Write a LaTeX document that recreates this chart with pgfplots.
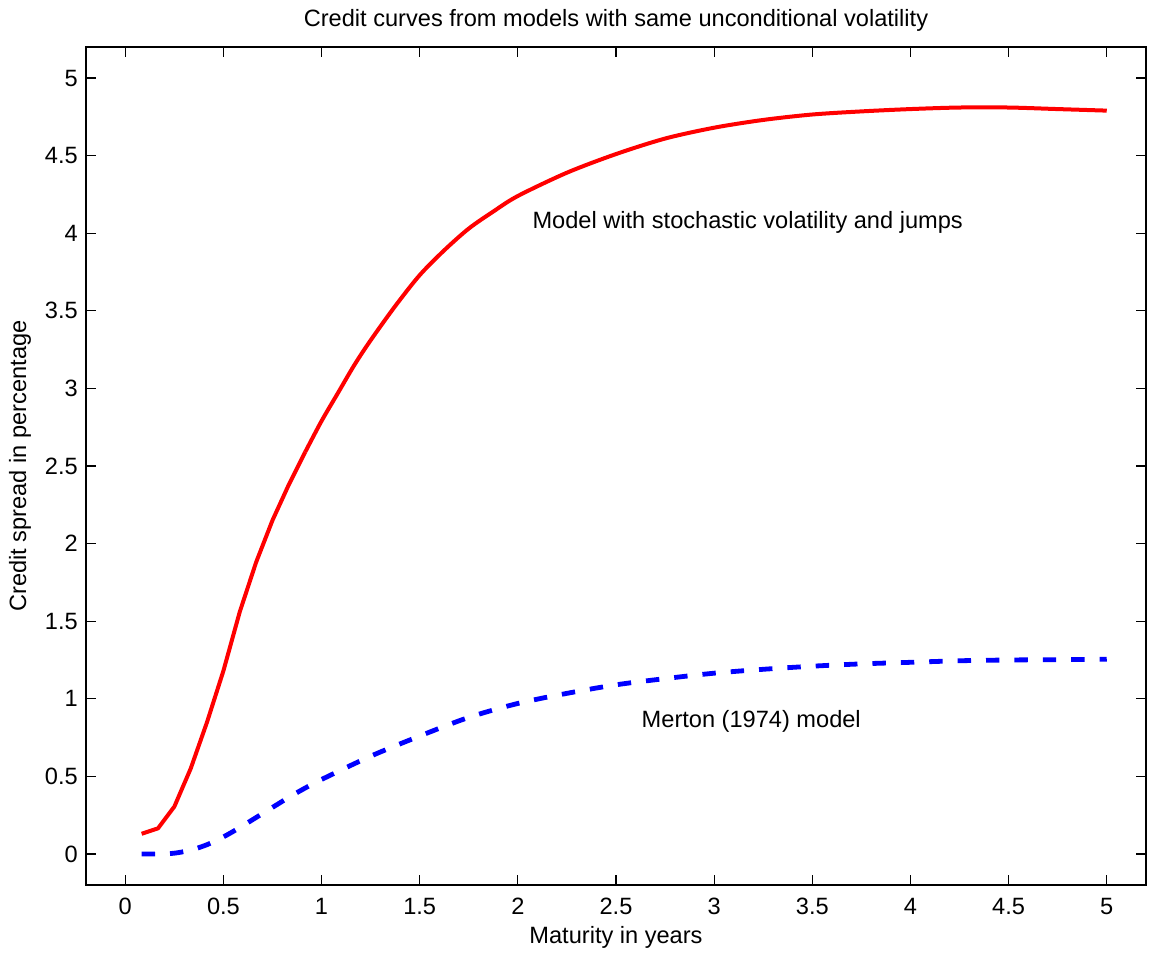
\documentclass[border=0pt]{standalone}
\usepackage{fontspec}
\setmainfont{Liberation Sans}
\usepackage{pgfplots}
\pgfplotsset{compat=1.18}
\begin{document}
\fontsize{11.8}{14}\selectfont
\begin{tikzpicture}
\begin{axis}[
  scale only axis,
  width=530pt, height=419pt,
  xmin=-0.2, xmax=5.2, ymin=-0.2, ymax=5.2,
  xtick={0,0.5,...,5}, ytick={0,0.5,...,5},
  xticklabels={0,0.5,1,1.5,2,2.5,3,3.5,4,4.5,5},
  yticklabels={0,0.5,1,1.5,2,2.5,3,3.5,4,4.5,5},
  tick align=inside, xtick pos=both, ytick pos=both,
  major tick length=5pt,
  tick style={black, line width=0.6pt},
  axis line style={black, line width=0.75pt},
  /pgf/number format/assume math mode=true,
  ticklabel style={font=\fontsize{11.8}{14}\selectfont},
  xticklabel style={yshift=-2.25pt},
  every axis title/.style={font=\fontsize{11.8}{14}\selectfont, at={(0.5,1)}, anchor=center, yshift=13.5pt},
  every axis x label/.style={font=\fontsize{11.8}{14}\selectfont, at={(0.5,0)}, anchor=center, yshift=-26pt},
  every axis y label/.style={font=\fontsize{11.8}{14}\selectfont, at={(0,0.5)}, rotate=90, anchor=center, yshift=33pt},
  title={Credit curves from models with same unconditional volatility},
  xlabel={Maturity in years},
  ylabel={Credit spread in percentage},
  clip=false,
]
\addplot[red, line width=2pt, line join=round] coordinates {
(0.0833,0.13) (0.1667,0.165) (0.25,0.305) (0.3333,0.55) (0.4167,0.85)
(0.5,1.18) (0.5833,1.56) (0.6667,1.88) (0.75,2.15) (0.8333,2.38) (0.9167,2.59)
};
\addplot[red, line width=2pt, smooth, line join=round] coordinates {
(0.9167,2.59) (1.0,2.79) (1.0833,2.97) (1.1667,3.15) (1.25,3.31) (1.375,3.53) (1.5,3.73)
(1.625,3.89) (1.75,4.03) (1.875,4.14) (2.0,4.24)
(2.25,4.39) (2.5,4.51) (2.75,4.61) (3.0,4.68) (3.25,4.73) (3.5,4.765)
(3.75,4.785) (4.0,4.80) (4.25,4.81) (4.5,4.81) (4.75,4.80) (5.0,4.79)
};
\addplot[blue, line width=2.4pt, smooth, dash pattern=on 6.7pt off 7.5pt] coordinates {
(0.0833,0.0) (0.1667,0.0) (0.25,0.005) (0.3333,0.025) (0.4167,0.06)
(0.5,0.11) (0.5833,0.17) (0.6667,0.235) (0.75,0.30) (0.8333,0.365) (0.9167,0.425)
(1.0,0.48) (1.25,0.63) (1.5,0.76) (1.75,0.88) (2.0,0.97) (2.25,1.035)
(2.5,1.09) (2.75,1.13) (3.0,1.165) (3.25,1.19) (3.5,1.21) (3.75,1.225)
(4.0,1.235) (4.25,1.245) (4.5,1.25) (4.75,1.252) (5.0,1.255)
};
\node[anchor=west, inner sep=0pt] at (axis cs:2.073,4.07) {Model with stochastic volatility and jumps};
\node[anchor=west, inner sep=0pt] at (axis cs:2.629,0.856) {Merton (1974) model};
\end{axis}
\path (current axis.south west) ++(-43pt,-34.5pt) (current axis.north east) ++(2pt,23.5pt);
\end{tikzpicture}
\end{document}
